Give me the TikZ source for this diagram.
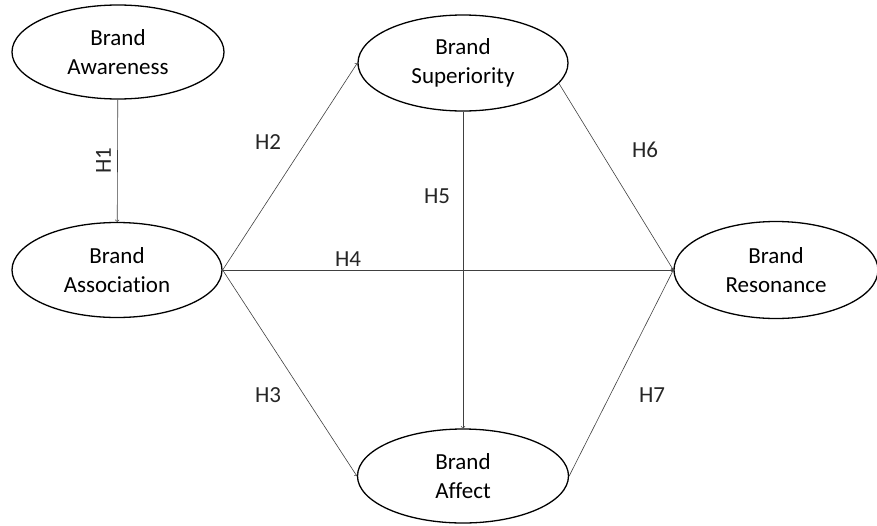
\documentclass[tikz,border=0pt]{standalone}
\usepackage{fontspec}
\setmainfont[Ligatures={NoCommon}]{Carlito}
\usetikzlibrary{shapes.geometric}

\begin{document}
\begin{tikzpicture}[x=1pt, y=-1pt,
        construct/.style = {ellipse, draw=black, line width=1.3pt, align=center,
                            inner sep=0pt, font=\fontsize{23}{29}\selectfont},
        path/.style = {->, draw=black!75, line width=0.6pt},
        hyp/.style = {font=\fontsize{23}{27}\selectfont, text=black!85}]
        \useasboundingbox (0,0) rectangle (877,525);

        \node[construct, minimum width=212, minimum height=94] (awareness) at (118,52) {Brand\\Awareness};
        \node[construct, minimum width=210, minimum height=95] (association) at (117,270) {Brand\\Association};
        \node[construct, minimum width=210, minimum height=96] (superiority) at (463,63) {Brand\\Superiority};
        \node[construct, minimum width=204, minimum height=97] (resonance) at (776,270) {Brand\\Resonance};
        \node[construct, minimum width=211, minimum height=94] (affect) at (463,476) {Brand\\Affect};

        \draw[path] (awareness) -- (association) node[hyp, midway, left=3pt, rotate=90, anchor=south] {H1};
        \draw[path] (association.east) -- (superiority.west);
        \draw[path] (association.east) -- (resonance.west);
        \draw[path] (association.east) -- (affect.west);
        \draw[path] (superiority) -- (affect);
        \draw[path] (superiority.-12) -- (resonance.west);
        \draw[path] (affect.east) -- (resonance.west);

        \node[hyp] (h2) at (268,142) {H2};
        \node[hyp] (h3) at (268,395) {H3};
        \node[hyp] (h4) at (348,259) {H4};
        \node[hyp] (h5) at (437,196) {H5};
        \node[hyp] (h6) at (645,150) {H6};
        \node[hyp] (h7) at (652,395) {H7};
\end{tikzpicture}
\end{document}
